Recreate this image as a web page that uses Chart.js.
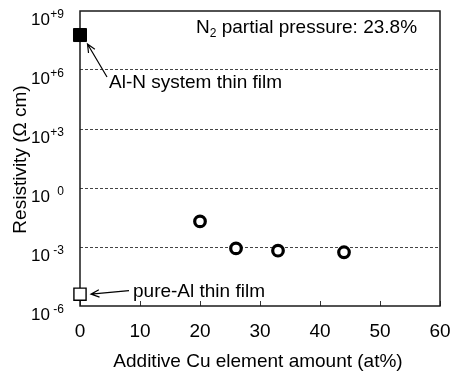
<!DOCTYPE html>
<html>
<head>
<meta charset="utf-8">
<script src="https://cdn.jsdelivr.net/npm/chart.js@4"></script>
<style>
  html, body { margin: 0; padding: 0; background: #fff; }
  #wrap { width: 451px; height: 374px; }
</style>
</head>
<body>
<div id="wrap"><canvas id="c" width="451" height="374"></canvas></div>
<script>
// Axis ticks
const xTickValues = [0, 10, 20, 30, 40, 50, 60];
const yTickValues = [1e-6, 1e-3, 1e0, 1e3, 1e6, 1e9];
const yTickExponents = ['-6', '-3', '0', '+3', '+6', '+9'];

// Resistivity (Ω cm) versus Cu content (at%)
const alnFilmX = [0];
const alnFilmY = [6e7];
const pureAlX = [0];
const pureAlY = [4e-6];
const cuAddedX = [20, 26, 33, 44];
const cuAddedY = [0.02, 8.5e-4, 6.5e-4, 5.4e-4];

const toPoints = (xs, ys) => xs.map((x, i) => ({ x: x, y: ys[i] }));

const FONT = '"Liberation Sans", Arial, sans-serif';

function arrow(ctx, x1, y1, x2, y2) {
  // line from (x1,y1) to the tip (x2,y2) with an open head
  const a = Math.atan2(y2 - y1, x2 - x1);
  const L = 9, spread = 0.42;
  ctx.beginPath();
  ctx.moveTo(x1, y1);
  ctx.lineTo(x2, y2);
  ctx.moveTo(x2 - L * Math.cos(a - spread), y2 - L * Math.sin(a - spread));
  ctx.lineTo(x2, y2);
  ctx.lineTo(x2 - L * Math.cos(a + spread), y2 - L * Math.sin(a + spread));
  ctx.stroke();
}

const decorations = {
  id: 'decorations',
  beforeDraw(chart) {
    const ctx = chart.ctx;
    ctx.save();
    ctx.fillStyle = '#fff';
    ctx.fillRect(0, 0, chart.width, chart.height);
    ctx.restore();
  },
  beforeDatasetsDraw(chart) {
    const ctx = chart.ctx;
    const ca = chart.chartArea;
    const xs = chart.scales.x;
    ctx.save();
    // inward tick marks on the bottom axis
    ctx.strokeStyle = '#333';
    ctx.lineWidth = 1;
    xTickValues.forEach(v => {
      const px = Math.round(xs.getPixelForValue(v)) + 0.5;
      ctx.beginPath();
      ctx.moveTo(px, ca.bottom);
      ctx.lineTo(px, ca.bottom - 5);
      ctx.stroke();
    });
    // plot frame
    ctx.strokeStyle = '#1a1a1a';
    ctx.lineWidth = 1.5;
    ctx.strokeRect(ca.left, ca.top, ca.right - ca.left, ca.bottom - ca.top);
    ctx.restore();
  },
  afterDraw(chart) {
    const ctx = chart.ctx;
    const ca = chart.chartArea;
    const xs = chart.scales.x;
    const ys = chart.scales.y;
    ctx.save();
    ctx.fillStyle = '#000';
    ctx.strokeStyle = '#000';

    // x tick labels
    ctx.font = '19px ' + FONT;
    ctx.textAlign = 'center';
    ctx.textBaseline = 'alphabetic';
    xTickValues.forEach(v => {
      ctx.fillText(String(v), xs.getPixelForValue(v), ca.bottom + 31);
    });

    // y tick labels: 10 with a raised exponent
    yTickValues.forEach((v, i) => {
      const py = ys.getPixelForValue(v);
      ctx.textAlign = 'right';
      ctx.font = '17px ' + FONT;
      ctx.fillText('10', ca.left - 30, py + 13.5);
      ctx.font = '12px ' + FONT;
      ctx.fillText(yTickExponents[i], ca.left - 16, py + 7);
    });

    // axis titles
    ctx.font = '19px ' + FONT;
    ctx.textAlign = 'center';
    ctx.fillText('Additive Cu element amount (at%)', (ca.left + ca.right) / 2 - 2, ca.bottom + 61);
    ctx.save();
    ctx.translate(26, (ca.top + ca.bottom) / 2 + 1);
    ctx.rotate(-Math.PI / 2);
    ctx.fillText('Resistivity (\u03A9 cm)', 0, 0);
    ctx.restore();

    // N2 partial pressure note
    ctx.textAlign = 'left';
    let tx = ca.left + 116;
    const tb = ca.top + 22;
    ctx.font = '19px ' + FONT;
    ctx.fillText('N', tx, tb);
    tx += ctx.measureText('N').width;
    ctx.font = '12px ' + FONT;
    ctx.fillText('2', tx, tb + 4);
    tx += ctx.measureText('2').width;
    ctx.font = '19px ' + FONT;
    ctx.fillText(' partial pressure: 23.8%', tx, tb);

    // annotations with arrows
    ctx.lineWidth = 1.2;
    const ax = xs.getPixelForValue(alnFilmX[0]);
    const ay = ys.getPixelForValue(alnFilmY[0]);
    arrow(ctx, ax + 27, ay + 42, ax + 7.5, ay + 9);
    ctx.fillText('Al-N system thin film', ax + 29, ay + 53);

    const px = xs.getPixelForValue(pureAlX[0]);
    const py = ys.getPixelForValue(pureAlY[0]);
    arrow(ctx, px + 49, py - 3.5, px + 11, py);
    ctx.fillText('pure-Al thin film', px + 53, py + 2.5);

    ctx.restore();
  }
};

new Chart(document.getElementById('c'), {
  type: 'scatter',
  data: {
    datasets: [
      {
        label: 'Al-N system thin film',
        data: toPoints(alnFilmX, alnFilmY),
        pointStyle: 'rect',
        pointRadius: 9.2,
        backgroundColor: '#000',
        borderColor: '#000',
        borderWidth: 1,
        clip: false
      },
      {
        label: 'pure-Al thin film',
        data: toPoints(pureAlX, pureAlY),
        pointStyle: 'rect',
        pointRadius: 8.6,
        backgroundColor: '#fff',
        borderColor: '#000',
        borderWidth: 1.4,
        clip: false
      },
      {
        label: 'Cu added',
        data: toPoints(cuAddedX, cuAddedY),
        pointStyle: 'circle',
        pointRadius: 5.3,
        backgroundColor: '#fff',
        borderColor: '#000',
        borderWidth: 3.2,
        clip: false
      }
    ]
  },
  options: {
    responsive: false,
    animation: false,
    devicePixelRatio: 1,
    layout: { padding: { left: 0, right: 11, top: 11, bottom: 0 } },
    plugins: { legend: { display: false }, tooltip: { enabled: false } },
    scales: {
      x: {
        type: 'linear',
        min: 0,
        max: 60,
        grid: { display: false },
        border: { display: false },
        ticks: { display: false },
        afterFit(scale) { scale.height = 68; }
      },
      y: {
        type: 'logarithmic',
        min: 1e-6,
        max: 1e9,
        afterBuildTicks(scale) {
          scale.ticks = yTickValues.map(v => ({ value: v }));
        },
        grid: {
          drawTicks: false,
          lineWidth: 1,
          color: ctx => (ctx.tick && (ctx.tick.value === 1e-6 || ctx.tick.value === 1e9)) ? 'rgba(0,0,0,0)' : '#444'
        },
        border: { display: false, dash: [3, 2] },
        ticks: { display: false },
        afterFit(scale) { scale.width = 80; }
      }
    }
  },
  plugins: [decorations]
});
</script>
</body>
</html>
